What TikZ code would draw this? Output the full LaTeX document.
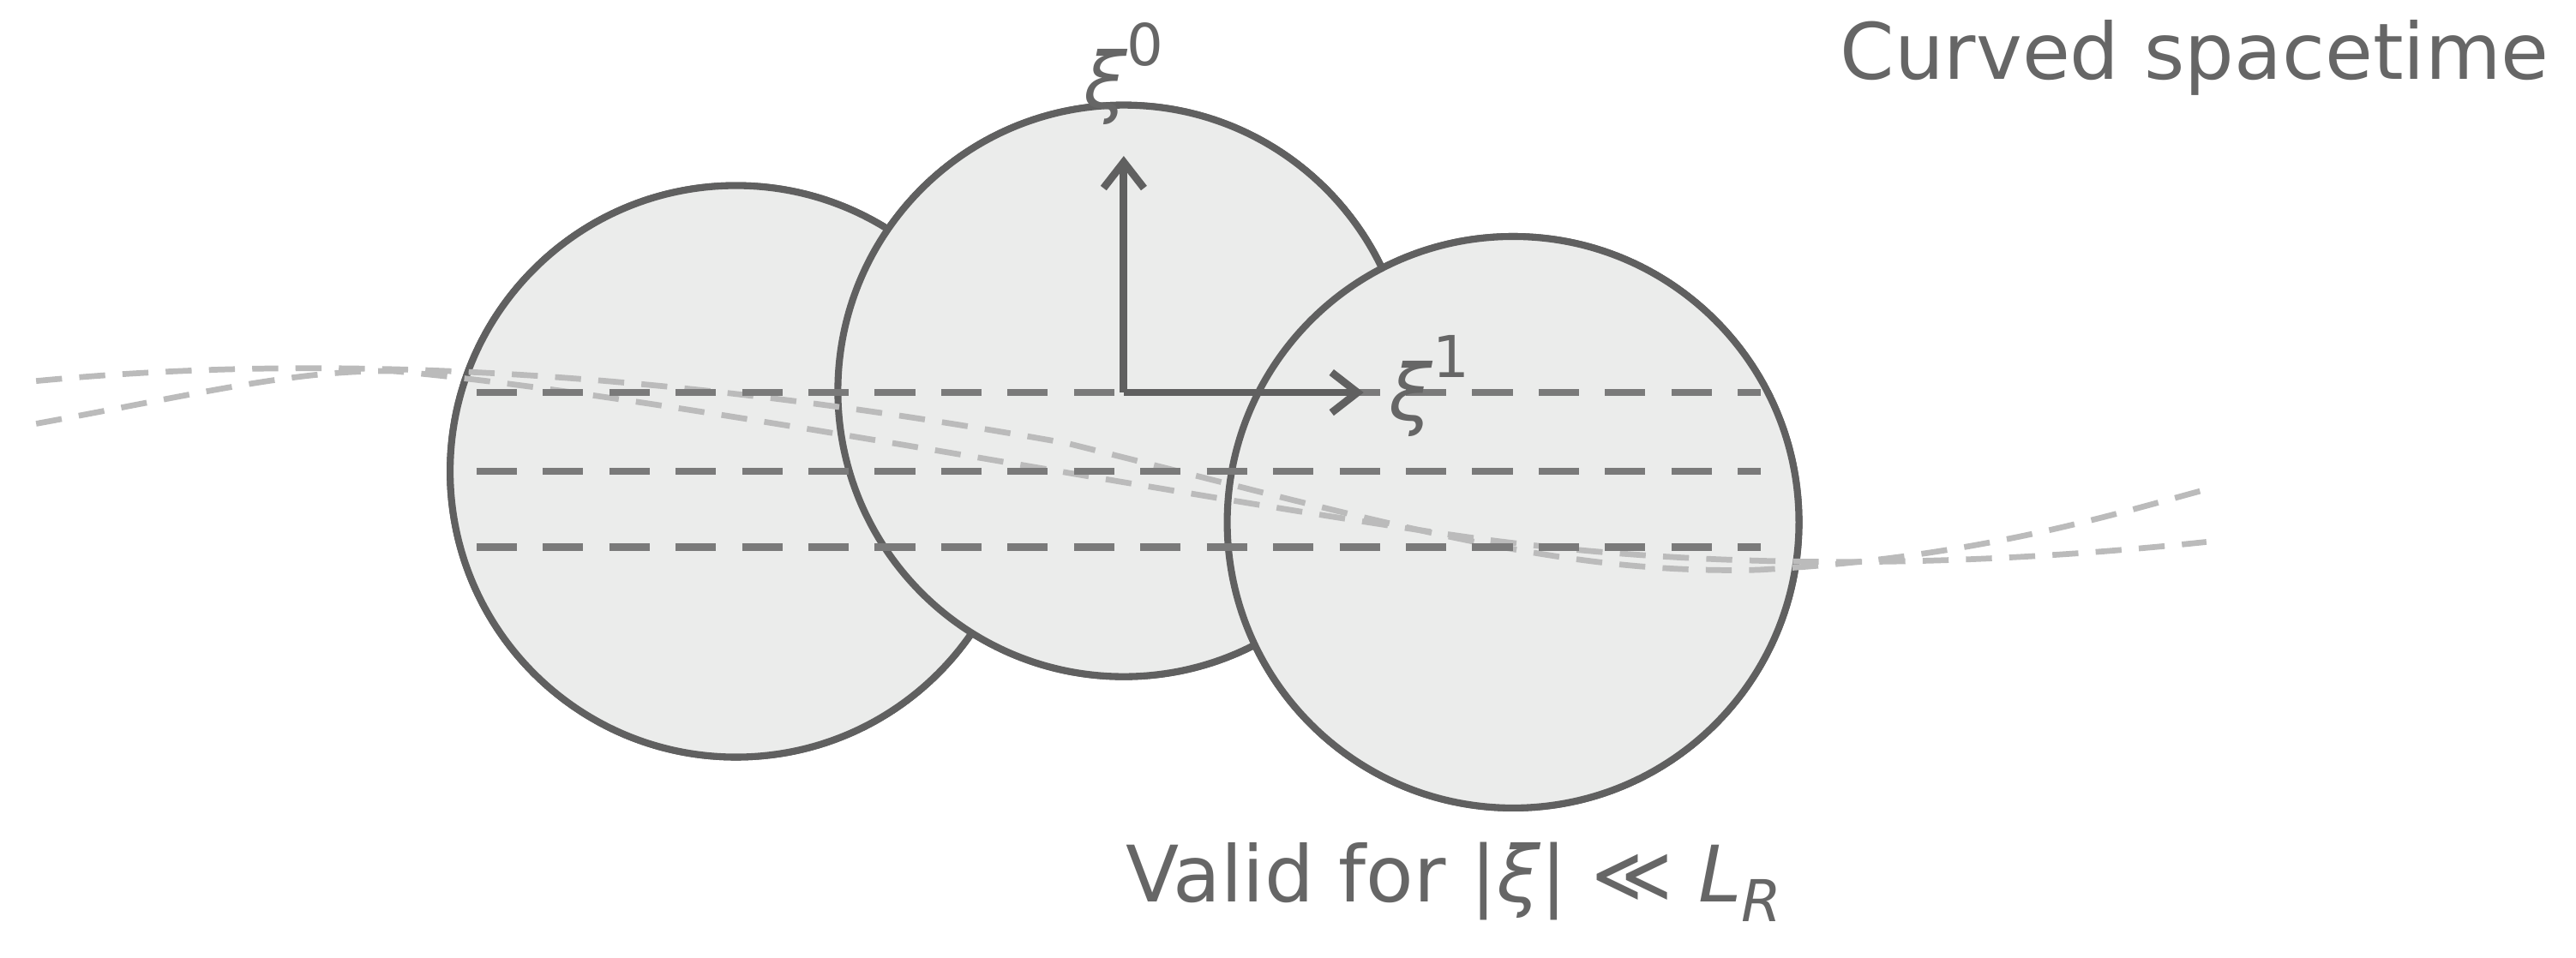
\documentclass[tikz,border=0pt]{standalone}
\usepackage{fontspec}
\setmainfont{DejaVu Sans}
\usetikzlibrary{arrows.meta}
\definecolor{cfill}{HTML}{EBECEB}
\definecolor{cline}{HTML}{606060}
\definecolor{dline}{HTML}{7A7A7A}
\definecolor{gline}{HTML}{BBBBBB}
\definecolor{txt}{HTML}{666666}
\begin{document}
\begin{tikzpicture}[x=0.02cm,y=-0.02cm,
  ball/.style={draw=cline,fill=cfill,line width=2.4pt},
  grid/.style={draw=dline,line width=2.6pt,dash pattern=on 14pt off 9pt},
  geo/.style={draw=gline,line width=2pt,dash pattern=on 9pt off 6pt},
  ax/.style={draw=cline,line width=2.6pt,-{Straight Barb[length=9pt,width=14pt,line width=2.6pt]}},
  lbl/.style={text=txt,font=\fontsize{27}{30}\selectfont,inner sep=0}]
\useasboundingbox (0,0) rectangle (1568,583);
\fill[ball] (448,287) circle (174);
\fill[ball] (684,238) circle (174);
\fill[ball] (921,318) circle (174);
\path[ball] (448,287) circle (174);
\draw[ball] (684,238) circle (174);
\draw[ball] (921,318) circle (174);
\coordinate (a1) at (22,232); \coordinate (a2) at (1343,298);
\coordinate (b1) at (22,258); \coordinate (b2) at (1343,330);
\draw[geo] (a1) .. controls (200,215) and (400,225) .. (650,270) .. controls (850,320) and (950,350) .. (1070,347) .. controls (1200,340) and (1280,315) .. (a2);
\draw[geo] (b1) .. controls (120,240) and (180,225) .. (240,226) .. controls (400,240) and (700,300) .. (900,328) .. controls (1050,348) and (1200,345) .. (b2);
\foreach \y/\n in {239/g1,287/g2,333/g3}{
  \coordinate (\n l) at (290,\y); \coordinate (\n r) at (1072,\y);
  \draw[grid] (\n l) -- (\n r);}
\coordinate (o) at (684,239);
\coordinate (t) at (684,95);
\coordinate (s) at (830,239);
\draw[ax] (o) -- (t);
\draw[ax] (o) -- (s);
\node[lbl] (x0) at (684,45) {\itshape ξ\raisebox{0.55em}{\upshape\fontsize{20}{22}\selectfont 0}};
\node[lbl] (x1) at (870,235) {\itshape ξ\raisebox{0.55em}{\upshape\fontsize{20}{22}\selectfont 1}};
\node[lbl,anchor=east] (cs) at (1552,35) {Curved spacetime};
\node[lbl] (vf) at (885,537) {Valid for |\textit{ξ}| ≪ \textit{L}\raisebox{-0.25em}{\fontsize{20}{22}\selectfont\textit{R}}};
\end{tikzpicture}
\end{document}
